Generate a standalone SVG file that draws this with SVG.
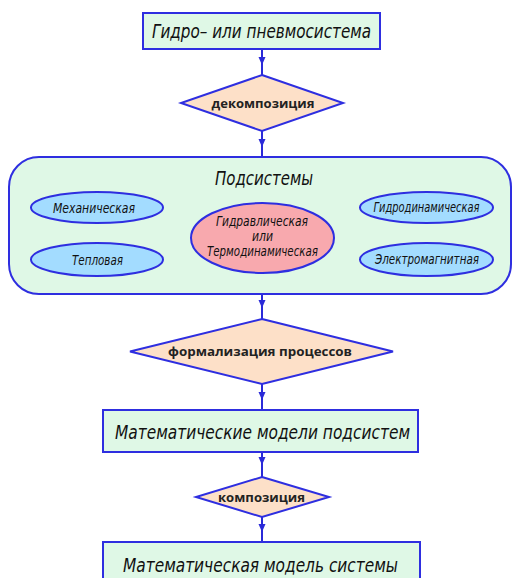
<svg xmlns="http://www.w3.org/2000/svg" width="512" height="578" viewBox="0 0 512 578">
<defs>
<marker id="arr" viewBox="0 0 8 8" refX="8" refY="4" markerWidth="8" markerHeight="8" markerUnits="userSpaceOnUse" orient="auto">
<path d="M0,0.5 L8,4 L0,7.5 Z" fill="#2a2ad8"/>
</marker>
<style>
.box{fill:#dff8e6;stroke:#2e2ee0;stroke-width:2}
.dia{fill:#fde0c8;stroke:#2e2ee0;stroke-width:2}
.ell{fill:#a3dcff;stroke:#2e2ee0;stroke-width:2}
.red{fill:#f8a9ae;stroke:#2e2ee0;stroke-width:2}
.con{fill:none;stroke:#2a2ad8;stroke-width:2;marker-mid:url(#arr)}
.it{font-family:"DejaVu Sans","Liberation Sans",sans-serif;font-style:italic;fill:#111;text-anchor:middle}
.bd{font-family:"Open Sans","DejaVu Sans",sans-serif;font-weight:bold;fill:#222;text-anchor:middle}
</style>
</defs>
<g id="connectors">
<path class="con" d="M262,49 L262,65 L262,75"/>
<path class="con" d="M262,131 L262,147 L262,157"/>
<path class="con" d="M262,294 L262,308 L262,319"/>
<path class="con" d="M262,384 L262,400 L262,410"/>
<path class="con" d="M262,452 L262,465 L262,477"/>
<path class="con" d="M262,517 L262,532 L262,542"/>
</g>
<g id="n1">
<rect class="box" x="143" y="13" width="237" height="36"/>
<text class="it" x="261.5" y="38" font-size="19.5" textLength="219" lengthAdjust="spacingAndGlyphs">Гидро– или пневмосистема</text>
</g>
<g id="n2">
<polygon class="dia" points="262,75 343,103 262,131 181,103"/>
<text class="bd" x="263" y="107.5" font-size="12.5" textLength="103" lengthAdjust="spacingAndGlyphs">декомпозиция</text>
</g>
<g id="n3">
<rect class="box" x="9" y="157" width="502" height="137" rx="30" ry="30"/>
<text class="it" x="264" y="184.5" font-size="19" textLength="98" lengthAdjust="spacingAndGlyphs">Подсистемы</text>
</g>
<g id="n3a">
<ellipse class="ell" cx="97" cy="207.5" rx="66" ry="15.5"/>
<text class="it" x="94" y="212.5" font-size="14.5" textLength="82" lengthAdjust="spacingAndGlyphs">Механическая</text>
</g>
<g id="n3b">
<ellipse class="ell" cx="97" cy="259.5" rx="66" ry="16.5"/>
<text class="it" x="97.5" y="264.5" font-size="14.5" textLength="51" lengthAdjust="spacingAndGlyphs">Тепловая</text>
</g>
<g id="n3c">
<ellipse class="red" cx="262.5" cy="238" rx="71.5" ry="35"/>
<text class="it" x="262" y="225.5" font-size="14.5" textLength="92" lengthAdjust="spacingAndGlyphs">Гидравлическая</text>
<text class="it" x="262.5" y="240.5" font-size="14.5" textLength="21" lengthAdjust="spacingAndGlyphs">или</text>
<text class="it" x="262.5" y="255.5" font-size="14.5" textLength="111" lengthAdjust="spacingAndGlyphs">Термодинамическая</text>
</g>
<g id="n3d">
<ellipse class="ell" cx="426.5" cy="207.5" rx="66.5" ry="15.5"/>
<text class="it" x="426.5" y="212" font-size="14" textLength="106" lengthAdjust="spacingAndGlyphs">Гидродинамическая</text>
</g>
<g id="n3e">
<ellipse class="ell" cx="426.5" cy="259.5" rx="66.5" ry="16.5"/>
<text class="it" x="427" y="264" font-size="14" textLength="104" lengthAdjust="spacingAndGlyphs">Электромагнитная</text>
</g>
<g id="n4">
<polygon class="dia" points="262,319 393,351.5 262,384 130,351.5"/>
<text class="bd" x="260" y="356" font-size="12.5" textLength="184" lengthAdjust="spacingAndGlyphs">формализация процессов</text>
</g>
<g id="n5">
<rect class="box" x="103" y="410" width="315" height="42"/>
<text class="it" x="262.5" y="438.5" font-size="20" textLength="295" lengthAdjust="spacingAndGlyphs">Математические модели подсистем</text>
</g>
<g id="n6">
<polygon class="dia" points="262,477 329,497 262,517 196,497"/>
<text class="bd" x="261.5" y="501.5" font-size="12.5" textLength="87" lengthAdjust="spacingAndGlyphs">композиция</text>
</g>
<g id="n7">
<rect class="box" x="103" y="542" width="317" height="50"/>
<text class="it" x="260.5" y="571.5" font-size="20" textLength="275" lengthAdjust="spacingAndGlyphs">Математическая модель системы</text>
</g>
</svg>
